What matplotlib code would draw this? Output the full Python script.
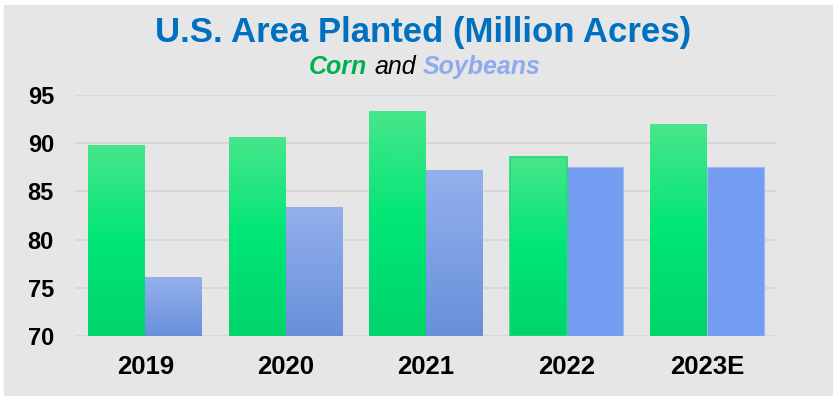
import numpy as np
import matplotlib.pyplot as plt
from matplotlib.patches import Rectangle
from matplotlib.colors import LinearSegmentedColormap
from matplotlib.offsetbox import TextArea, HPacker, AnchoredOffsetbox

# datos
years = ['2019', '2020', '2021', '2022', '2023E']
corn = [89.8, 90.7, 93.4, 88.6, 92.0]
soybeans = [76.1, 83.4, 87.2, 87.5, 87.5]
yticks = [70, 75, 80, 85, 90, 95]

plt.rcParams['font.family'] = ['Liberation Sans', 'DejaVu Sans']

fig = plt.figure(figsize=(8.33, 3.98), dpi=100)
fig.patch.set_facecolor('white')
# recuadro gris de fondo
fig.patches.append(Rectangle((4 / 833, 3 / 398), 829 / 833, 390 / 398,
                             transform=fig.transFigure, facecolor='#E6E6E6',
                             edgecolor='#E6E6E6', zorder=-10))

ax = fig.add_axes([0.090, 0.156, 0.843, 0.605])
ax.set_facecolor('none')

x = np.arange(len(years))
w = 0.405
corn_bars = ax.bar(x - w / 2, np.array(corn) - 70, w, bottom=70, color='none', zorder=2)
soy_bars = ax.bar(x + w / 2, np.array(soybeans) - 70, w, bottom=70, color='none', zorder=2)

corn_cmap = LinearSegmentedColormap.from_list('corn', ['#00D46A', '#00E676', '#48E68B'])
soy_cmap = LinearSegmentedColormap.from_list('soy', ['#6890DA', '#94B0EC'])
grad = np.linspace(0, 1, 256).reshape(-1, 1)


def fill_gradient(bar, cmap):
    x0, y0 = bar.get_x(), bar.get_y()
    x1, y1 = x0 + bar.get_width(), y0 + bar.get_height()
    im = ax.imshow(grad, cmap=cmap, extent=(x0, x1, y0, y1), origin='lower',
                   aspect='auto', zorder=2)
    im.set_clip_path(bar)


for i, b in enumerate(corn_bars):
    fill_gradient(b, corn_cmap)
    if i == 3:
        b.set_edgecolor('#1FD878')
        b.set_linewidth(1.2)
        b.set_zorder(3)

for i, b in enumerate(soy_bars):
    if i < 3:
        fill_gradient(b, soy_cmap)
    else:
        b.set_facecolor('#749DF1')
        b.set_edgecolor('#9DB8F2')
        b.set_linewidth(0.8)

ax.set_xlim(-0.5, len(years) - 0.5)
ax.set_ylim(70, 95)
ax.set_yticks(yticks)
ax.set_xticks(x)
ax.set_xticklabels(years)
ax.yaxis.grid(True, color='#D4D4D4', linewidth=1.2, zorder=0)
ax.set_axisbelow(True)
for s in ax.spines.values():
    s.set_visible(False)
ax.tick_params(axis='both', length=0)
ax.tick_params(axis='y', pad=34, labelsize=17)
ax.tick_params(axis='x', pad=14, labelsize=18.5)
for lbl in ax.get_xticklabels() + ax.get_yticklabels():
    lbl.set_fontweight('bold')
for lbl in ax.get_yticklabels():
    lbl.set_horizontalalignment('left')

fig.text(0.508, 0.918, 'U.S. Area Planted (Million Acres)', ha='center', va='center',
         fontsize=25, fontweight='bold', color='#0070C0')

parts = [TextArea('Corn', textprops=dict(color='#00B050', fontsize=18, fontweight='bold', style='italic')),
         TextArea('and', textprops=dict(color='black', fontsize=18, style='italic')),
         TextArea('Soybeans', textprops=dict(color='#8EAAF0', fontsize=18, fontweight='bold', style='italic'))]
box = HPacker(children=parts, align='baseline', pad=0, sep=5)
anch = AnchoredOffsetbox(loc='center', child=box, frameon=False,
                         bbox_to_anchor=(0.51, 0.832), bbox_transform=fig.transFigure)
fig.add_artist(anch)

fig.savefig('out.png', dpi=100, facecolor=fig.get_facecolor())
